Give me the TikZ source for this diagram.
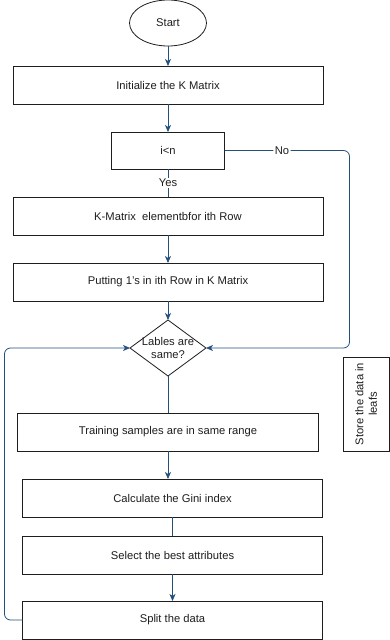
\documentclass[tikz,border=0pt]{standalone}
\usepackage{fontspec}
\setmainfont{Liberation Sans}
\usetikzlibrary{positioning,shapes.geometric,arrows.meta,calc}
\definecolor{ink}{HTML}{1E1E1E}
\definecolor{wire}{HTML}{24507F}

\begin{document}
\begin{tikzpicture}[
    box/.style={draw=ink, line width=0.8pt, fill=white, minimum width=310pt,
      minimum height=38pt, inner sep=0pt, outer sep=0pt, text=ink,
      font=\fontsize{11.2}{13.5}\selectfont},
    terminal/.style={box, ellipse, minimum width=77pt, minimum height=46pt},
    decision/.style={draw=ink, line width=0.8pt, diamond, minimum width=76pt,
      minimum height=56pt, inner sep=0pt, outer sep=0pt},
    side/.style={box, rotate=90, minimum width=94pt, minimum height=46pt, align=center},
    flow/.style={-{Stealth[length=7pt,width=6pt,inset=2pt]}, line width=0.8pt, draw=wire},
    plain/.style={line width=0.8pt, draw=wire},
    lbl/.style={fill=white, text=ink, inner sep=1.5pt, font=\fontsize{11.2}{13.5}\selectfont},
  ]
  \useasboundingbox (0,0) rectangle (390pt,-640pt);

  % ---------------------------------------------------------------- main flow
  \node[terminal] (start) at (168pt,-23pt) {Start};
  \node[box, below=20pt of start] (init) {Initialize the K Matrix};
  \node[box, minimum width=113pt, minimum height=37pt, below=28pt of init] (cond) {i\textless n};
  \node[box, below=28pt of cond] (kmat) {K-Matrix\ \ elementbfor ith Row};
  \node[box, below=28pt of kmat] (ones) {Putting 1's in ith Row in K Matrix};
  \node[decision, below=19pt of ones] (same) {};
  \node[lbl, fill=none, align=center, inner sep=0pt] (samelbl) at (same) {Lables are\\same?};
  \node[box, minimum width=301pt, below=37pt of same] (train) {Training samples are in same range};
  \node[box, minimum width=300pt, below=28pt of train, xshift=4.5pt] (gini) {Calculate the Gini index};
  \node[box, minimum width=300pt, below=19pt of gini] (select) {Select the best attributes};
  \node[box, minimum width=300pt, below=27pt of select] (split) {Split the data};

  % ------------------------------------------------------------ side box
  \node[side] (store) at (366pt,-404pt) {Store the data in\\leafs};

  % ------------------------------------------------------------------ arrows
  \draw[flow] (start) -- (init);
  \draw[flow] (init) -- (cond);
  \draw[plain] (cond) -- node[lbl] {Yes} (kmat);
  \draw[flow] (kmat) -- (ones);
  \draw[flow] (ones) -- (same);
  \draw[plain] (same) -- (train);
  \draw[flow] (train.south) -- (train.south |- gini.north);
  \draw[plain] (gini) -- (select);
  \draw[flow] (select) -- (split);

  % ------------------------------------------------------------------ loops
  \draw[flow, rounded corners=6pt] (cond.east) -- node[lbl, pos=0.46] {No} ++(125pt,0) |- (same.east);
  \draw[flow, rounded corners=6pt] (split.west) -- ++(-18pt,0) |- (same.west);
\end{tikzpicture}
\end{document}
